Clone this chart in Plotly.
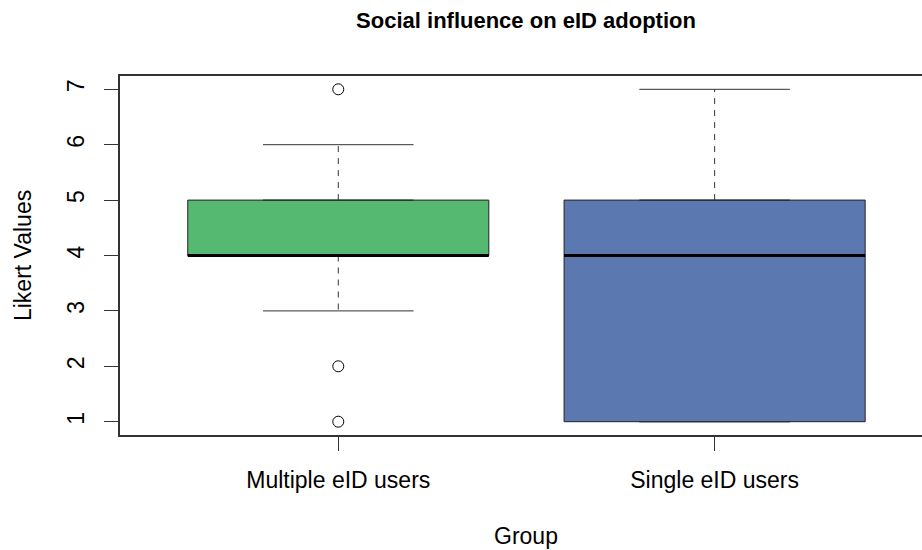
import plotly.graph_objects as go

# ---- data ----
groups = ["Multiple eID users", "Single eID users"]
q1 = [4, 1]
median = [4, 4]
q3 = [5, 5]
lower_whisker = [3, 1]
upper_whisker = [6, 7]
outlier_group = [0, 0, 0]
outlier_value = [7, 2, 1]
fill_colors = ["rgb(86,185,114)", "rgb(91,121,176)"]
y_ticks = [1, 2, 3, 4, 5, 6, 7]

positions = [i + 1 for i in range(len(groups))]
box_width = 0.8
cap_half = box_width / 4

fig = go.Figure()

for i, g in enumerate(groups):
    x = positions[i]
    # dashed whiskers
    fig.add_trace(go.Scatter(
        x=[x, x, None, x, x],
        y=[q3[i], upper_whisker[i], None, q1[i], lower_whisker[i]],
        mode="lines", line=dict(color="#333333", width=1, dash="6px,6px"),
        hoverinfo="skip", showlegend=False))
    # caps
    fig.add_trace(go.Scatter(
        x=[x - cap_half, x + cap_half, None, x - cap_half, x + cap_half],
        y=[upper_whisker[i], upper_whisker[i], None, lower_whisker[i], lower_whisker[i]],
        mode="lines", line=dict(color="#333333", width=1),
        hoverinfo="skip", showlegend=False))
    # box
    fig.add_trace(go.Box(
        x=[x], q1=[q1[i]], median=[median[i]], q3=[q3[i]],
        lowerfence=[q1[i]], upperfence=[q3[i]],
        width=box_width, fillcolor=fill_colors[i],
        line=dict(color="#222222", width=1),
        boxpoints=False, showlegend=False, name=g))
    # thick median
    fig.add_trace(go.Scatter(
        x=[x - box_width / 2, x + box_width / 2],
        y=[median[i], median[i]],
        mode="lines", line=dict(color="black", width=3),
        hoverinfo="skip", showlegend=False))

# outliers
fig.add_trace(go.Scatter(
    x=[positions[g] for g in outlier_group], y=outlier_value,
    mode="markers",
    marker=dict(symbol="circle-open", size=11, color="black", line=dict(width=1)),
    showlegend=False))

font = "Liberation Sans, Arial, Helvetica, sans-serif"
fs = 23

fig.update_layout(
    width=922, height=550,
    margin=dict(l=119.5, r=0, t=76, b=114.5),
    paper_bgcolor="white", plot_bgcolor="white",
    font=dict(family=font, size=fs, color="black"),
    title=dict(text="<b>Social influence on eID adoption</b>",
               x=526 / 922, xref="container", xanchor="center",
               y=1 - 20 / 550, yref="container", yanchor="middle",
               font=dict(size=22, family=font, color="black")),
    xaxis=dict(range=[0.42, 2.551], tickvals=positions, ticktext=groups,
               tickfont=dict(size=fs),
               showgrid=False, zeroline=False, showline=True, mirror=True,
               linecolor="#333333", linewidth=1.5,
               ticks="outside", ticklen=14, tickcolor="#333333",
               ticklabelstandoff=10),
    yaxis=dict(range=[0.76, 7.24], tickvals=y_ticks,
               tickfont=dict(size=fs),
               showgrid=False, zeroline=False, showline=True, mirror=False,
               linecolor="#333333", linewidth=1.5,
               ticks="outside", ticklen=14, tickcolor="#333333",
               tickangle=-90, ticklabelstandoff=11),
    annotations=[
        dict(text="Group", xref="paper", yref="paper",
             x=(526 - 119.5) / 802.5, y=(435.5 - 537) / 359.5,
             xanchor="center", yanchor="middle", showarrow=False,
             font=dict(size=fs)),
        dict(text="Likert Values", xref="paper", yref="paper",
             x=(22 - 119.5) / 802.5, y=0.5, textangle=-90,
             xanchor="center", yanchor="middle", showarrow=False,
             font=dict(size=fs)),
    ],
)

fig.write_html("out.html", config={"displayModeBar": False},
               post_script="document.body.style.margin='0';document.body.style.overflow='hidden';")
